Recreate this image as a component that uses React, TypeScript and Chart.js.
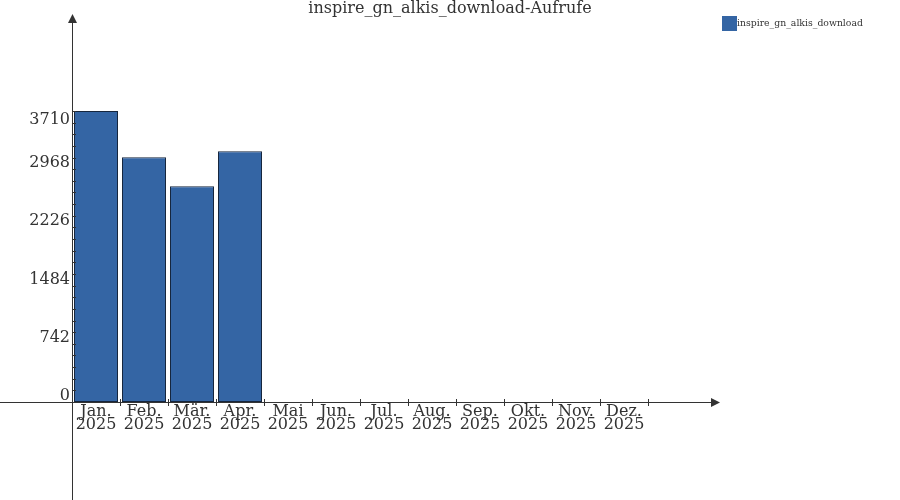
import React, { useEffect, useRef } from "react";
import { Chart, registerables } from "chart.js";

Chart.register(...registerables);

const TITLE = "inspire_gn_alkis_download-Aufrufe";
const SERIES_NAME = "inspire_gn_alkis_download";
const MONTHS = ["Jan.", "Feb.", "Mär.", "Apr.", "Mai", "Jun.", "Jul.", "Aug.", "Sep.", "Okt.", "Nov.", "Dez."];
const YEARS = ["2025", "2025", "2025", "2025", "2025", "2025", "2025", "2025", "2025", "2025", "2025", "2025"];
const VALUES = [3710, 3121, 2752, 3198, 0, 0, 0, 0, 0, 0, 0, 0];
const Y_TICKS = [0, 742, 1484, 2226, 2968, 3710];
const Y_MAX = 4934;

const TEXT = "#333333";
const AXIS = "#333333";
const FILL = "#3465a4";
const EDGE = "#16263d";
const FONT = '"DejaVu Serif", serif';

const overlay = {
  id: "overlay",
  afterDraw(chart: any) {
    const ctx = chart.ctx;
    const area = chart.chartArea;
    const ys = chart.scales.y;
    const xs = chart.scales.x;
    ctx.save();

    // title
    ctx.fillStyle = TEXT;
    ctx.font = `16px ${FONT}`;
    ctx.textAlign = "center";
    ctx.textBaseline = "alphabetic";
    ctx.fillText(TITLE, 450, 13);

    // y axis
    const ax = Math.round(area.left) + 0.5;
    ctx.strokeStyle = AXIS;
    ctx.fillStyle = AXIS;
    ctx.lineWidth = 1;
    ctx.beginPath();
    ctx.moveTo(ax, 20);
    ctx.lineTo(ax, 500);
    ctx.stroke();
    ctx.beginPath();
    ctx.moveTo(72.5, 14);
    ctx.lineTo(68, 23);
    ctx.lineTo(77, 23);
    ctx.closePath();
    ctx.fill();

    // x axis
    const by = Math.round(area.bottom) + 0.5;
    ctx.beginPath();
    ctx.moveTo(0, by);
    ctx.lineTo(714, by);
    ctx.stroke();
    ctx.beginPath();
    ctx.moveTo(720, by);
    ctx.lineTo(711, by - 4.5);
    ctx.lineTo(711, by + 4.5);
    ctx.closePath();
    ctx.fill();

    // y minor ticks
    const step = Y_TICKS[1] / 5;
    const top = Y_TICKS[Y_TICKS.length - 1];
    for (let v = 0; v <= top + 0.01; v += step) {
      const py = Math.round(ys.getPixelForValue(v)) + 0.5;
      ctx.beginPath();
      ctx.moveTo(ax, py);
      ctx.lineTo(ax + 3.5, py);
      ctx.stroke();
    }

    // y labels
    ctx.fillStyle = TEXT;
    ctx.font = `16px ${FONT}`;
    ctx.textAlign = "right";
    Y_TICKS.forEach((v, i) => {
      const py = ys.getPixelForValue(v);
      if (i === Y_TICKS.length - 1) {
        ctx.textBaseline = "top";
        ctx.fillText(String(v), 70, py + 1);
      } else {
        ctx.textBaseline = "alphabetic";
        ctx.fillText(String(v), 70, py - 2);
      }
    });

    // x ticks and labels
    const n = MONTHS.length;
    const w = (area.right - area.left) / n;
    ctx.strokeStyle = AXIS;
    for (let i = 1; i <= n; i++) {
      const px = Math.round(area.left + i * w) + 0.5;
      ctx.beginPath();
      ctx.moveTo(px, by - 3.5);
      ctx.lineTo(px, by + 3.5);
      ctx.stroke();
    }
    ctx.textAlign = "center";
    ctx.textBaseline = "alphabetic";
    MONTHS.forEach((m, i) => {
      const cx = xs.getPixelForValue(i);
      ctx.fillText(m, cx, 416);
      ctx.fillText(YEARS[i], cx, 429);
    });

    // legend
    ctx.fillStyle = FILL;
    ctx.fillRect(722, 16, 15, 15);
    ctx.fillStyle = TEXT;
    ctx.font = `9.3px ${FONT}`;
    ctx.textAlign = "left";
    ctx.textBaseline = "alphabetic";
    ctx.fillText(SERIES_NAME, 737, 26);

    ctx.restore();
  },
};

export default function App() {
  const ref = useRef<HTMLCanvasElement | null>(null);
  useEffect(() => {
    if (!ref.current) return;
    const chart = new Chart(ref.current, {
      type: "bar",
      data: {
        labels: MONTHS.map((m, i) => [m, YEARS[i]]),
        datasets: [
          {
            label: SERIES_NAME,
            data: VALUES,
            backgroundColor: FILL,
            borderColor: EDGE,
            borderWidth: 1,
            borderSkipped: false,
            barPercentage: 44 / 48,
            categoryPercentage: 1,
          },
        ],
      },
      options: {
        responsive: false,
        animation: false,
        layout: { padding: { left: 72, right: 252, top: 15, bottom: 98 } },
        scales: {
          x: { display: false },
          y: { display: false, min: 0, max: Y_MAX },
        },
        plugins: {
          legend: { display: false },
          title: { display: false },
          tooltip: { enabled: false },
        },
      },
      plugins: [overlay],
    });
    return () => chart.destroy();
  }, []);
  return (
    <div style={{ position: "fixed", left: 0, top: 0, width: 900, height: 500, background: "#fff" }}>
      <canvas ref={ref} width={900} height={500} />
    </div>
  );
}
